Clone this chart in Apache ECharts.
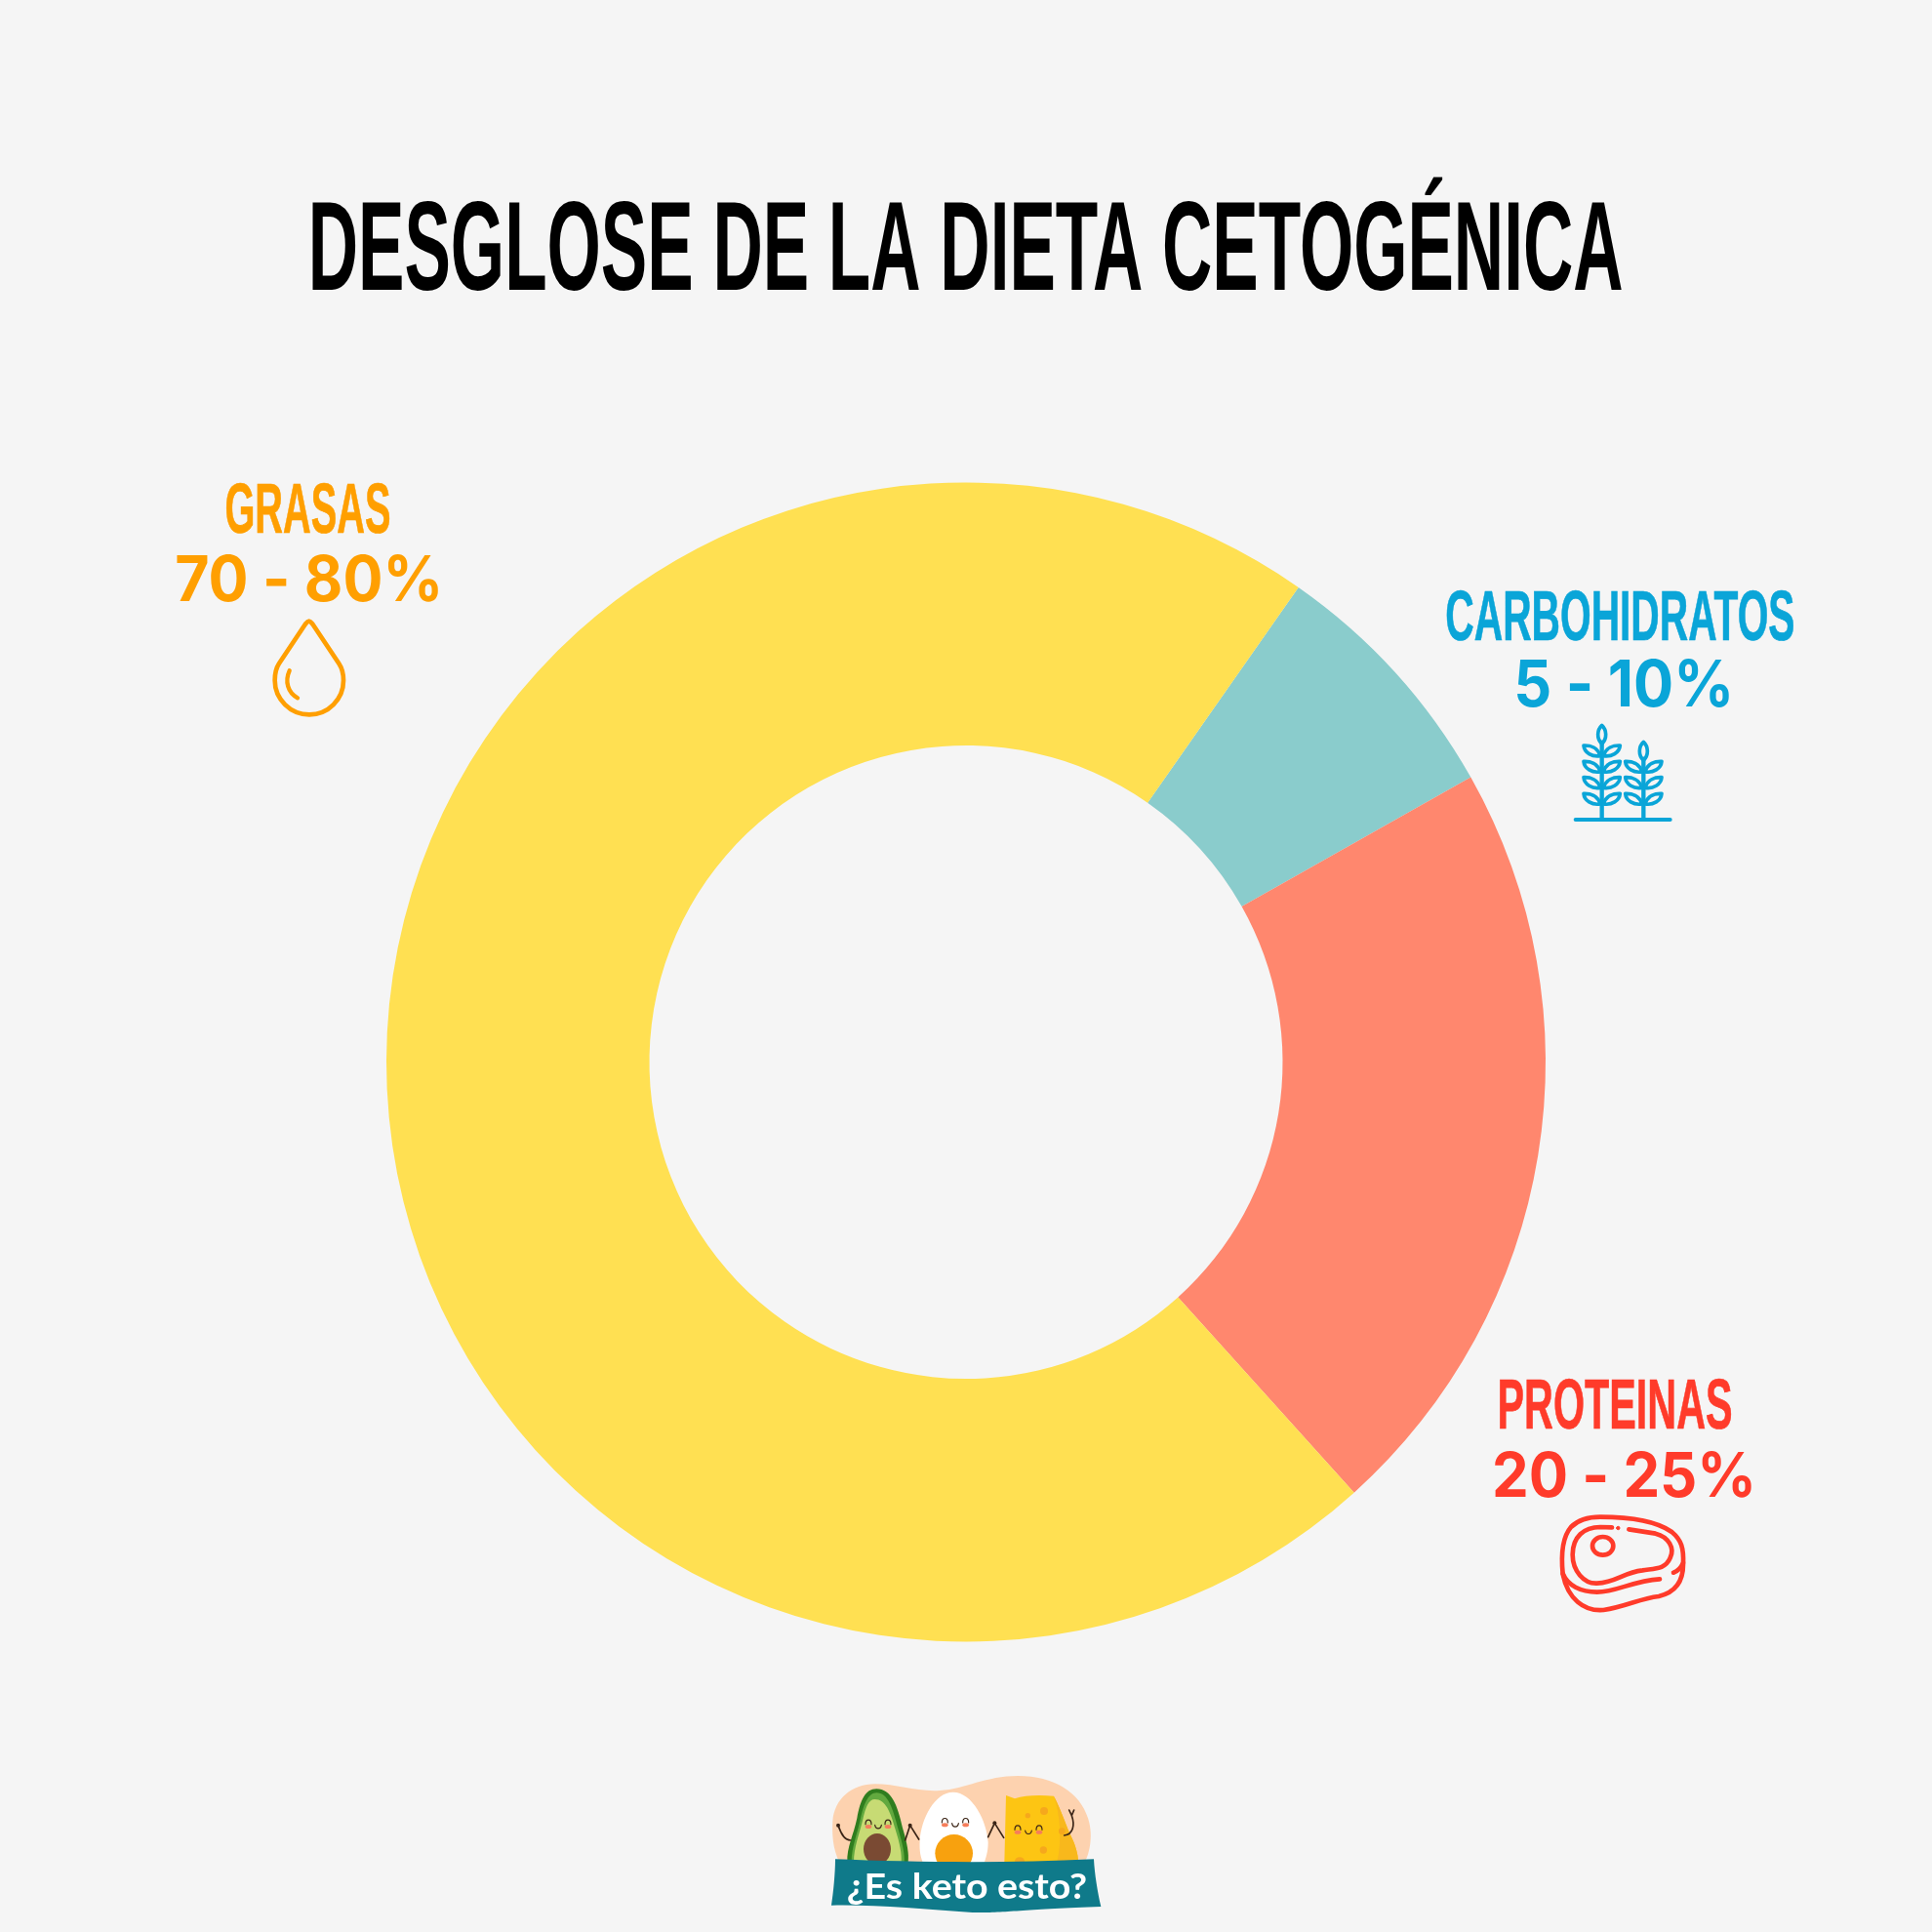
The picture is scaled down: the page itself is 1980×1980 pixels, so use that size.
<!DOCTYPE html>
<html><head><meta charset="utf-8">
<style>html,body{margin:0;padding:0;background:#f5f5f5}#c{width:1980px;height:1980px}</style>
<script src="https://cdn.jsdelivr.net/npm/echarts@6/dist/echarts.min.js"></script>
</head><body><div id="c"></div>
<script>
const titleText = 'DESGLOSE DE LA DIETA CETOGÉNICA';
const categories = ['CARBOHIDRATOS', 'PROTEINAS', 'GRASAS'];
const shares = [7.1, 21.5, 71.4];
const ranges = ['5 - 10%', '20 - 25%', '70 - 80%'];
const sliceColors = ['#8ACCCC', '#FF876E', '#FFE052'];
const textColors = ['#0AA5D8', '#FF3B2A', '#FF9F00'];
const logoText = '¿Es keto esto?';

const HEAD = 'bold 100px "Liberation Sans Narrow","Liberation Sans"';
const NUM = '700 100px Inter,"Noto Sans"';
const ctx = document.createElement('canvas').getContext('2d');
function fit(text, font, x0, x1, top, base, color, lw) {
  ctx.font = font;
  ctx.textBaseline = 'middle';
  ctx.textAlign = 'left';
  const m = ctx.measureText(text);
  const h = ctx.measureText('H');
  const sx = (x1 - x0) / (m.actualBoundingBoxLeft + m.actualBoundingBoxRight);
  const sy = (base - top) / (h.actualBoundingBoxAscent + h.actualBoundingBoxDescent);
  return {
    type: 'text', z: 50, silent: true,
    x: x0 + m.actualBoundingBoxLeft * sx, y: top + h.actualBoundingBoxAscent * sy, scaleX: sx, scaleY: sy,
    style: { text, font, fill: color, textAlign: 'left', textVerticalAlign: 'middle', stroke: color, lineWidth: lw || 0 }
  };
}
const headBoxes = [[1483, 1838, 606, 656], [1537, 1774, 1414, 1464], [232, 399, 496, 546]];
const numBoxes = [[1555, 1772, 676, 724], [1532, 1795, 1488, 1534], [181, 449, 569, 616]];

function P(d, fill, stroke, lw) {
  return { type: 'path', shape: { pathData: d }, style: { fill: fill || 'none', stroke: stroke || 'none', lineWidth: lw || 0, lineCap: 'round', lineJoin: 'round' } };
}
function G(x, y, children) { return { type: 'group', x, y, scaleX: 1 / 3, scaleY: 1 / 3, children }; }
function C(cx, cy, rx, ry, fill, stroke, lw) {
  const d = `M${cx - rx} ${cy}A${rx} ${ry} 0 1 1 ${cx + rx} ${cy}A${rx} ${ry} 0 1 1 ${cx - rx} ${cy}Z`;
  return P(d, fill, stroke, lw);
}
function drop() {
  const o = textColors[2];
  return G(140, 460, [
    P('M530 530C525 530 522 535 518 540L438 660C428 675 425 695 425 712C425 770 473 817 531 817C589 817 636 770 636 712C636 695 632 675 622 660L542 540C538 535 535 530 530 530Z', null, o, 14),
    P('M470 682C455 715 465 750 495 766', null, o, 13)
  ]);
}
function wheatStalk(x, rows, topY, bottomY) {
  const c = textColors[0], out = [];
  out.push(P(`M${x} ${topY + 50}L${x} ${bottomY}`, null, c, 13));
  out.push(P(`M${x} ${topY - 2}C${x + 15} ${topY + 12} ${x + 17} ${topY + 38} ${x} ${topY + 55}C${x - 17} ${topY + 38} ${x - 15} ${topY + 12} ${x} ${topY - 2}Z`, null, c, 11));
  rows.forEach(y => {
    out.push(P(`M${x + 5} ${y}C${x + 12} ${y - 25} ${x + 35} ${y - 33} ${x + 56} ${y - 32}C${x + 54} ${y - 10} ${x + 30} ${y + 4} ${x + 5} ${y}Z`, null, c, 11));
    out.push(P(`M${x - 5} ${y}C${x - 12} ${y - 25} ${x - 35} ${y - 33} ${x - 56} ${y - 32}C${x - 54} ${y - 10} ${x - 30} ${y + 4} ${x - 5} ${y}Z`, null, c, 11));
  });
  return out;
}
function wheat() {
  const c = textColors[0];
  return G(1450, 580, [
    ...wheatStalk(575, [584, 633, 682, 732], 492, 778),
    ...wheatStalk(703, [633, 682, 732], 543, 778),
    P('M494 780L785 780', null, c, 12)
  ]);
}
function meat() {
  const c = textColors[1];
  return G(1500, 1390, [
    P('M420 494C500 494 590 505 640 540C670 565 677 590 675 640C675 690 655 725 600 738C540 745 500 770 430 780C370 785 320 745 305 670C300 620 300 560 330 525C355 500 385 494 420 494Z', null, c, 14),
    P('M305 668C320 705 360 725 410 725C470 725 520 690 603 685', null, c, 14),
    P('M456 526L420 525C370 525 335 555 335 610C335 660 370 700 410 698C470 695 490 665 550 658C590 652 620 655 635 620C650 590 630 555 590 545L508 532', null, c, 14),
    C(475, 528, 5, 5, c, c, 3),
    C(428, 583, 32, 28, null, c, 14),
    P('M645 665C660 660 668 650 675 635', null, c, 14)
  ]);
}
function face(x, y, gap) {
  const ink = '#3A2416', out = [];
  [x - gap, x + gap].forEach(ex => {
    out.push(C(ex, y + 11, 10, 6, '#F57E5B'));
    out.push(P(`M${ex - 9} ${y + 4}C${ex - 9} ${y - 14} ${ex + 9} ${y - 14} ${ex + 9} ${y + 4}`, null, ink, 3.5));
  });
  out.push(P(`M${x - 10} ${y + 6}C${x - 8} ${y + 20} ${x + 8} ${y + 20} ${x + 10} ${y + 6}`, null, ink, 3.5));
  return out;
}
function logo() {
  const ink = '#3A2416';
  return G(830, 1800, [
    P('M70 200C75 130 130 85 200 85C270 85 330 110 400 105C480 100 540 60 640 60C750 60 830 110 855 190C875 250 855 310 845 325L90 325C70 280 68 240 70 200Z', '#FDD2AF'),
    P('M205 100C250 100 270 150 285 220C300 270 305 300 302 325L115 325C113 280 135 240 145 190C155 135 170 100 205 100Z', '#2F7D1E'),
    P('M205 112C240 112 255 160 272 225C285 270 292 300 290 325L128 325C128 280 145 240 155 195C165 150 178 112 205 112Z', '#62A93F'),
    P('M200 132C232 132 248 170 263 225C277 270 283 300 281 325L135 325C135 280 152 240 162 197C172 155 180 132 200 132Z', '#C7DB74'),
    C(207, 285, 42, 48, '#7A4A33'),
    P('M440 110C500 110 545 200 548 265C548 295 540 315 535 332L350 332C340 310 336 290 338 260C342 190 385 110 440 110Z', '#FFFFFF'),
    C(443, 298, 58, 58, '#F8A10E'),
    P('M603 120L630 130C660 120 700 118 750 122C775 170 790 220 805 250C815 270 825 300 825 325L598 328Z', '#FDC513'),
    P('M750 122C775 170 790 220 805 250C815 270 825 300 825 325L760 325C775 260 770 180 750 122Z', '#F8B81C'),
    C(720, 168, 12, 12, '#F6A81C'), C(670, 182, 8, 8, '#F6A81C'), C(718, 288, 11, 11, '#F6A81C'), C(775, 230, 10, 10, '#F6A81C'), C(645, 322, 15, 12, '#F6A81C'),
    ...face(210, 205, 30), ...face(447, 200, 32), ...face(672, 222, 33),
    P('M125 258C105 258 95 235 87 212', null, ink, 5), C(87, 212, 6, 6, ink),
    P('M293 258L308 212L335 255', null, ink, 5), C(308, 212, 6, 6, ink),
    P('M548 248L568 205L596 250', null, ink, 5), C(568, 205, 6, 6, ink),
    P('M782 243C810 240 815 210 805 182M805 182L797 165M805 182L812 165', null, ink, 5),
    P('M78 316C300 325 600 330 873 316C875 360 885 420 895 462C650 470 600 482 500 480C350 470 200 455 66 458C72 420 78 360 78 316Z', '#0F7A8A')
  ]);
}
const chart = echarts.init(document.getElementById('c'));
chart.setOption({
  backgroundColor: '#F5F5F5',
  animation: false,
  graphic: { elements: [
    fit(titleText, HEAD, 320, 1662, 206, 297, '#000000', 0),
    ...categories.map((t, i) => fit(t, HEAD, headBoxes[i][0], headBoxes[i][1], headBoxes[i][2], headBoxes[i][3], textColors[i], 1)),
    ...ranges.map((t, i) => fit(t, NUM, numBoxes[i][0], numBoxes[i][1], numBoxes[i][2], numBoxes[i][3], textColors[i], 0)),
    fit(logoText, 'bold 100px Lato', 869, 1113, 1920, 1946, '#FFFFFF', 0)
  ]},
  series: [{
    type: 'pie',
    center: [990, 1088.5],
    radius: [324.5, 594],
    startAngle: 55,
    clockwise: true,
    silent: true,
    label: { show: false }, labelLine: { show: false },
    data: categories.map((name, i) => ({ name, value: shares[i], itemStyle: { color: sliceColors[i] } }))
  }, {
    type: 'custom',
    coordinateSystem: 'none',
    silent: true,
    data: [[0]],
    renderItem: () => ({ type: 'group', children: [drop(), wheat(), meat(), logo()] })
  }]
});
</script></body></html>
